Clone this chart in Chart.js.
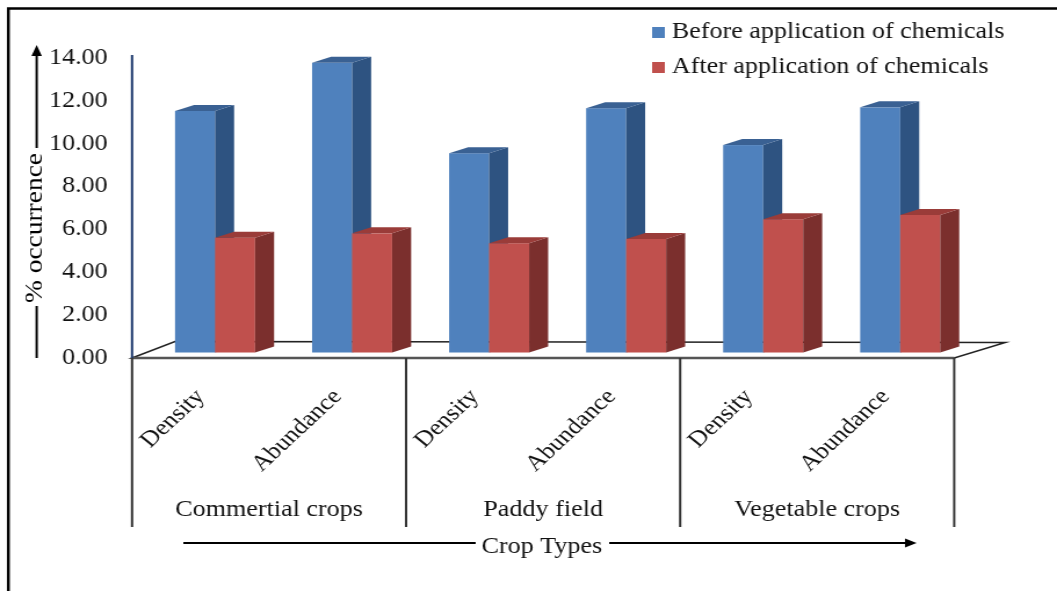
<!DOCTYPE html>
<html>
<head>
<meta charset="utf-8">
<script src="https://cdn.jsdelivr.net/npm/chart.js@4.4.1/dist/chart.umd.min.js"></script>
<style>
html, body { margin: 0; padding: 0; background: #fff; overflow: hidden; }
/* the source figure is stretched ~1.16x horizontally, so the canvas is too */
#chart { display: block; width: 1057px !important; height: 591px !important; }
</style>
</head>
<body>
<canvas id="chart" width="911" height="591" style="width:1057px;height:591px"></canvas>
<script>
const groups = ['Commertial crops', 'Paddy field', 'Vegetable crops'];
const measures = ['Density', 'Abundance'];
const categories = groups.flatMap(() => measures);
const seriesNames = ['Before application of chemicals', 'After application of chemicals'];
const beforeValues = [11.27, 13.52, 9.30, 11.40, 9.68, 11.44];
const afterValues = [5.36, 5.56, 5.10, 5.30, 6.22, 6.42];
const yMin = 0;
const yMax = 14;
const yStep = 2;

const FONT = "'Liberation Serif', 'Times New Roman', serif";
const TEXT = '#111';
const front = ['#4F81BD', '#C0504D'];
const side = ['#2E5381', '#7B2F2D'];
const topc = ['#3A6193', '#9A3C39'];

// fake depth
const SX = 12.5, SY = -5.5;   // bars sit back from the floor front edge
const DX = 16.4, DY = 6;      // side / top face depth
const FLOOR_L = 37, FLOOR_R = 44, FLOOR_DY = 16.5;

function poly(ctx, pts, fill) {
    ctx.beginPath();
    ctx.moveTo(pts[0][0], pts[0][1]);
    for (let i = 1; i < pts.length; i++) ctx.lineTo(pts[i][0], pts[i][1]);
    ctx.closePath();
    ctx.fillStyle = fill;
    ctx.fill();
}

function arrowHead(ctx, x, y, dir, len, half) {
    ctx.beginPath();
    if (dir === 'up') {
        ctx.moveTo(x, y);
        ctx.lineTo(x - half, y + len);
        ctx.lineTo(x + half, y + len);
    } else {
        ctx.moveTo(x, y);
        ctx.lineTo(x - len, y - half);
        ctx.lineTo(x - len, y + half);
    }
    ctx.closePath();
    ctx.fillStyle = '#000';
    ctx.fill();
}

function drawFloor(chart) {
    const { ctx, chartArea: a } = chart;
    const yb = a.bottom;
    ctx.save();
    ctx.beginPath();
    ctx.moveTo(a.left, yb);
    ctx.lineTo(a.left + FLOOR_L, yb - FLOOR_DY);
    ctx.lineTo(a.right + FLOOR_R, yb - FLOOR_DY + 1);
    ctx.lineTo(a.right, yb);
    ctx.closePath();
    ctx.fillStyle = '#fff';
    ctx.fill();
    ctx.strokeStyle = '#222';
    ctx.lineWidth = 1.5;
    ctx.stroke();
    ctx.beginPath();
    ctx.moveTo(a.left, yb);
    ctx.lineTo(a.right, yb);
    ctx.strokeStyle = '#555';
    ctx.lineWidth = 2.5;
    ctx.stroke();
    ctx.restore();
}

function drawBars(chart) {
    const ctx = chart.ctx;
    const metas = chart.data.datasets.map((d, i) => chart.getDatasetMeta(i));
    ctx.save();
    for (let j = 0; j < categories.length; j++) {
        metas.forEach((meta, i) => {
            const bar = meta.data[j];
            const { x, y, base, width } = bar.getProps(['x', 'y', 'base', 'width'], true);
            const l = x - width / 2 + SX, r = x + width / 2 + SX;
            const t = y + SY, b = base + SY;
            ctx.fillStyle = front[i];
            ctx.fillRect(l, t, r - l, b - t);
            poly(ctx, [[r, t], [r + DX, t - DY], [r + DX, b - DY], [r, b]], side[i]);
            poly(ctx, [[l, t], [l + DX, t - DY], [r + DX, t - DY], [r, t]], topc[i]);
        });
    }
    ctx.restore();
}

function drawFrame(chart) {
    const { ctx, chartArea: a, scales } = chart;
    const xs = scales.x;
    const catW = (a.right - a.left) / categories.length;
    ctx.save();

    // outer border (top + left only visible)
    ctx.strokeStyle = '#000';
    ctx.lineWidth = 2.5;
    ctx.beginPath();
    ctx.moveTo(7.2, 591);
    ctx.lineTo(7.2, 8.5);
    ctx.lineTo(911, 8.5);
    ctx.stroke();

    // value axis line
    ctx.strokeStyle = '#1F3A6E';
    ctx.lineWidth = 2;
    ctx.beginPath();
    ctx.moveTo(a.left, 55);
    ctx.lineTo(a.left, a.bottom);
    ctx.stroke();

    // group dividers + labels
    ctx.strokeStyle = '#333';
    ctx.lineWidth = 2;
    for (let g = 0; g <= groups.length; g++) {
        const x = xs.getPixelForValue(g * measures.length) - catW / 2;
        ctx.beginPath();
        ctx.moveTo(x, a.bottom);
        ctx.lineTo(x, 527);
        ctx.stroke();
    }
    ctx.font = `22.5px ${FONT}`;
    ctx.fillStyle = TEXT;
    ctx.textAlign = 'center';
    ctx.textBaseline = 'middle';
    groups.forEach((g, k) => {
        const x0 = xs.getPixelForValue(k * measures.length) - catW / 2;
        ctx.fillText(g, x0 + catW * measures.length / 2, 510);
    });

    // x title with arrow
    const xt = 'Crop Types';
    const xtX = 467, xtY = 547;
    const tw = ctx.measureText(xt).width;
    ctx.fillText(xt, xtX, xtY);
    ctx.strokeStyle = '#000';
    ctx.lineWidth = 2;
    ctx.beginPath();
    ctx.moveTo(158, 543);
    ctx.lineTo(xtX - tw / 2 - 5, 543);
    ctx.moveTo(xtX + tw / 2 + 6, 543);
    ctx.lineTo(782, 543);
    ctx.stroke();
    arrowHead(ctx, 790, 543, 'right', 10, 4.5);

    // y title with arrow
    const yt = '% occurrence';
    ctx.beginPath();
    ctx.moveTo(31.6, 54);
    ctx.lineTo(31.6, 148);
    ctx.moveTo(31.6, 306);
    ctx.lineTo(31.6, 358);
    ctx.stroke();
    arrowHead(ctx, 31.6, 45, 'up', 11, 4.5);
    ctx.save();
    ctx.translate(30.8, 228);
    ctx.rotate(-Math.PI / 2);
    ctx.font = `21px ${FONT}`;
    const yw = ctx.measureText(yt).width;
    ctx.scale(150 / yw, 1);
    ctx.fillText(yt, 0, 0);
    ctx.restore();

    // legend
    ctx.font = `22.5px ${FONT}`;
    ctx.textAlign = 'left';
    chart.data.datasets.forEach((ds, i) => {
        const cy = 32.5 + i * 35;
        ctx.fillStyle = ds.backgroundColor;
        ctx.fillRect(562, cy - 5.5, 11, 11);
        ctx.fillStyle = TEXT;
        ctx.fillText(ds.label, 579, cy);
    });
    ctx.restore();
}

const depthPlugin = {
    id: 'depth3d',
    beforeDatasetsDraw(chart) { drawFloor(chart); },
    beforeDatasetDraw() { return false; },
    afterDatasetsDraw(chart) { drawBars(chart); },
    afterDraw(chart) { drawFrame(chart); },
};

new Chart(document.getElementById('chart'), {
    type: 'bar',
    data: {
        labels: categories,
        datasets: [
            { label: seriesNames[0], data: beforeValues, backgroundColor: front[0] },
            { label: seriesNames[1], data: afterValues, backgroundColor: front[1] },
        ],
    },
    options: {
        responsive: false,
        animation: false,
        layout: { padding: { top: 58, right: 88.6, bottom: 0, left: 0 } },
        datasets: { bar: { categoryPercentage: 0.584, barPercentage: 1 } },
        plugins: { legend: { display: false }, tooltip: { enabled: false } },
        scales: {
            x: {
                grid: { display: false, drawTicks: false },
                border: { display: false },
                ticks: {
                    autoSkip: false,
                    minRotation: 47,
                    maxRotation: 47,
                    padding: 26,
                    color: TEXT,
                    font: { family: FONT, size: 22.5 },
                },
                afterFit: (s) => { s.height = 233; },
            },
            y: {
                min: yMin,
                max: yMax,
                grid: { display: false, drawTicks: false },
                border: { display: false },
                ticks: {
                    stepSize: yStep,
                    padding: 21,
                    color: TEXT,
                    font: { family: FONT, size: 22.5 },
                    callback: (v) => v.toFixed(2),
                },
                afterFit: (s) => { s.width = 113.8; },
            },
        },
    },
    plugins: [depthPlugin],
});
</script>
</body>
</html>
